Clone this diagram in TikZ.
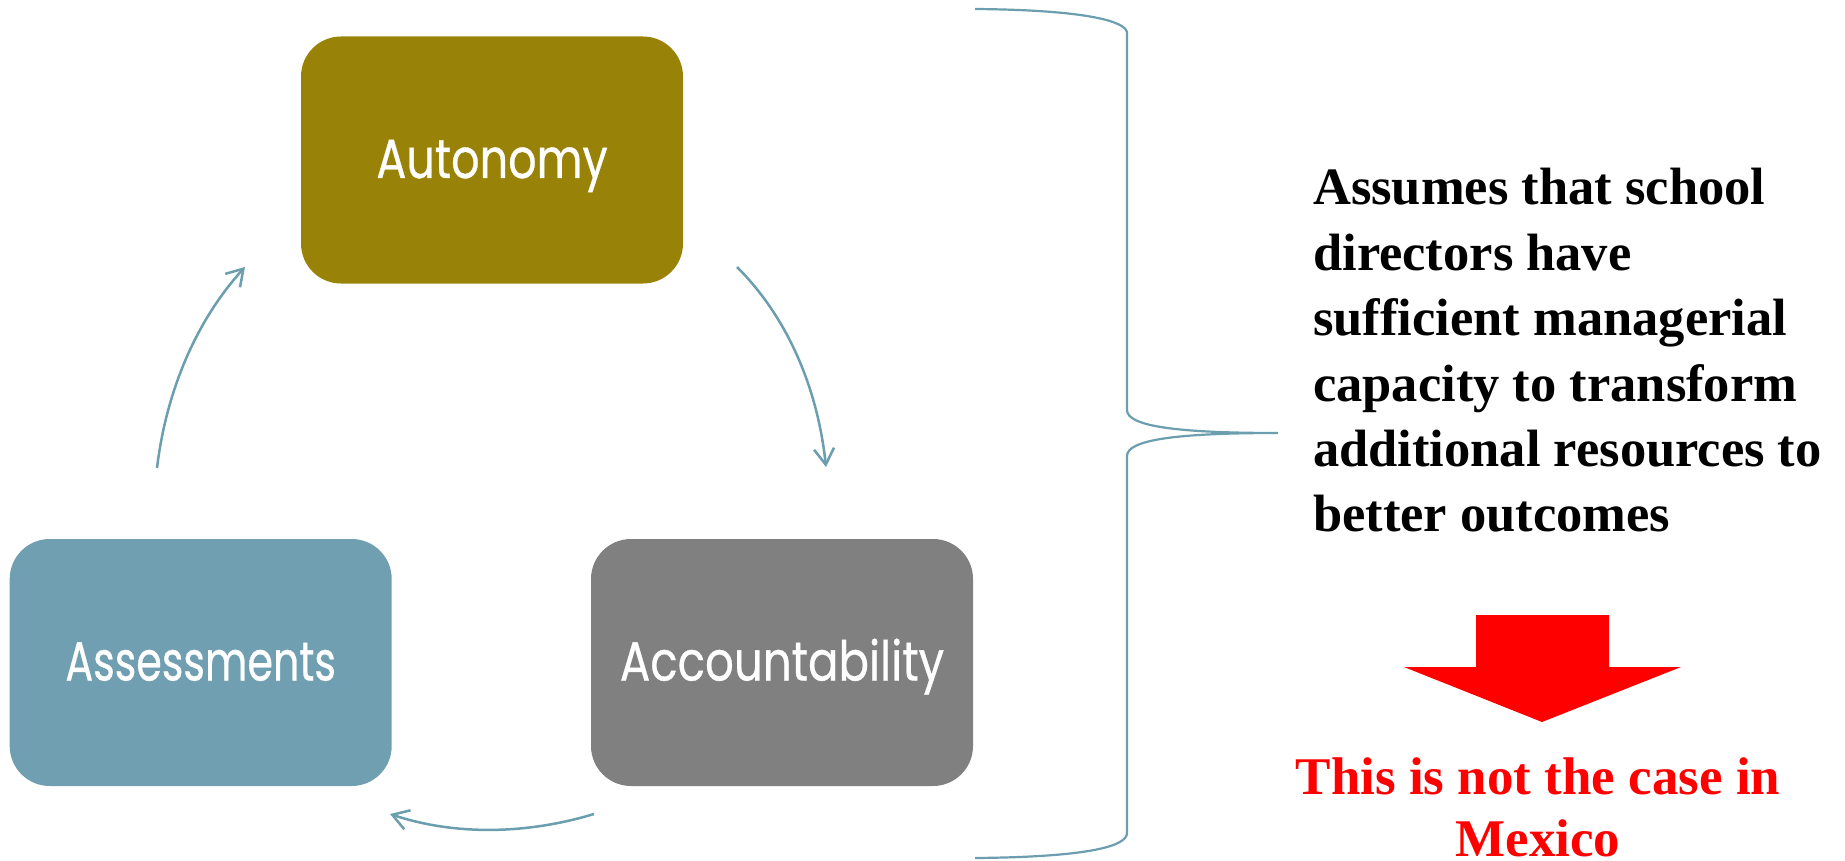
\documentclass[tikz,border=0pt]{standalone}
\usepackage{fontspec}
\setmainfont{Liberation Serif}
\newfontfamily\boxfont[FakeBold=0.6]{Poppins}
\usetikzlibrary{arrows.meta}
\definecolor{autocol}{RGB}{153,130,8}
\definecolor{assesscol}{RGB}{111,159,176}
\definecolor{acctcol}{RGB}{128,128,128}
\definecolor{linecol}{RGB}{107,158,174}
\definecolor{alertred}{RGB}{255,0,0}
\begin{document}
\begin{tikzpicture}[x=1pt,y=-1pt,
  box/.style={draw=none, rounded corners=40pt, minimum width=382pt, minimum height=247pt,
    inner sep=0pt, text=white, text height=36pt, text depth=0pt,
    font=\boxfont\fontsize{55}{55}\selectfont},
  cyc/.style={draw=linecol, line width=2.5pt,
    -{Straight Barb[length=16pt,width=20pt]}},
  bracestyle/.style={draw=linecol, line width=2.2pt}]
\useasboundingbox (0,0) rectangle (1845,861);

\node[box, fill=autocol] (auto) at (492,160) {\scalebox{0.81}[1]{Autonomy}};
\node[box, fill=assesscol] (assess) at (200.7,662.5) {\scalebox{0.75}[1]{Assessments}};
\node[box, fill=acctcol] (acct) at (782,662.5) {\scalebox{0.82}[1]{Accountability}};

\coordinate (c1s) at (157,468);
\coordinate (c1e) at (245,267);
\coordinate (c2s) at (737,267);
\coordinate (c2e) at (826,467);
\coordinate (c3s) at (594,814);
\coordinate (c3e) at (390,814);

\draw[cyc] (c1s) .. controls (166,393) and (195,322) .. (c1e);
\draw[cyc] (c2s) .. controls (790,320) and (818,392) .. (c2e);
\draw[cyc] (c3s) .. controls (528,834) and (456,836) .. (c3e);

% brace
\coordinate (btop) at (975,9);
\coordinate (btip) at (1278,433);
\coordinate (bbot) at (975,858);
\draw[bracestyle] (btop) .. controls (1090,10) and (1127,22) .. (1127,33)
  -- (1127,410) .. controls (1127,426) and (1175,433) .. (btip)
  .. controls (1175,433) and (1127,440) .. (1127,456)
  -- (1127,833) .. controls (1127,846) and (1090,857) .. (bbot);

\node[anchor=base west, inner sep=0pt] (claim) at (1313,205)
  {\parbox[t]{600pt}{\raggedright\fontsize{52.5}{65.4}\selectfont\bfseries
  Assumes that school\\ directors have\\ sufficient managerial\\ capacity to transform\\ additional resources to\\ better outcomes}};

\fill[alertred] (1476,615) -- (1609,615) -- (1609,667) -- (1681,667) -- (1542,722)
  -- (1404,667) -- (1476,667) -- cycle;

\node[anchor=base, inner sep=0pt, text=alertred] (verdict) at (1538,794)
  {\parbox[t]{600pt}{\centering\fontsize{53}{62}\selectfont\bfseries
  This is not the case in\\ Mexico}};
\end{tikzpicture}
\end{document}
